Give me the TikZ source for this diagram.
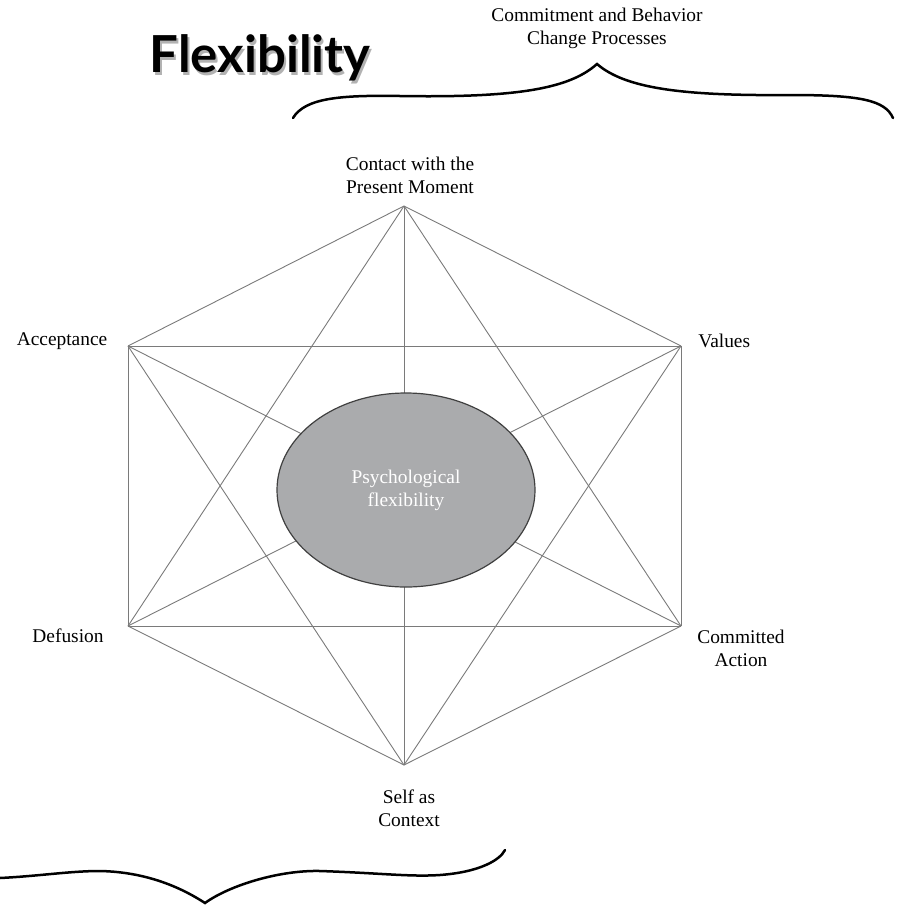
\documentclass[tikz,border=0pt]{standalone}
\usepackage{fontspec}
\setmainfont{Liberation Serif}
\newfontfamily\titlefont{Lato}
\usetikzlibrary{calc,positioning,shapes.geometric}
\definecolor{FlexGrey}{HTML}{aaabad}
\definecolor{EdgeGrey}{HTML}{7a7a7a}

\begin{document}
\begin{tikzpicture}[%
    x=0.5pt, y=-0.5pt,%
    label text/.style={align=center, inner sep=0pt, font=\fontsize{9.7}{11.5}\selectfont},%
    edge/.style={draw=EdgeGrey, line width=0.45pt},%
    brace/.style={line width=1.25pt, line cap=round}%
  ]
  \useasboundingbox (0,0) rectangle (897,906);%

  %
  % Sommets de l'hexagone
  %
  \foreach \n/\x/\y in {cpm/404/206,val/681/346,ca/681/626,sac/404/765,def/128/626,acc/128/346} {%
      \coordinate (\n) at (\x,\y);%
    }%

  % Toutes les liaisons
  \foreach \a/\b in {cpm/val,cpm/ca,cpm/sac,cpm/def,cpm/acc,val/ca,val/sac,val/def,val/acc,%
      ca/sac,ca/def,ca/acc,sac/def,sac/acc,def/acc} {%
      \draw[edge] (\a) -- (\b);%
    }%

  % Centre
  \node[ellipse, draw=black!75, line width=0.6pt, fill=FlexGrey, text=white, inner sep=0pt,%
    minimum width=129pt, minimum height=97pt, align=center,%
    font=\fontsize{9.7}{11.5}\selectfont] (flex) at (406,490) {Psychological\\flexibility};%

  %
  % Etiquettes
  %
  \node[label text] (cpm label) at (410,175) {Contact with the\\Present Moment};%
  \node[label text] (acc label) at (62,341) {Acceptance};%
  \node[label text, anchor=west] (val label) at (698,341) {Values};%
  \node[label text] (def label) at (68,636) {Defusion};%
  \node[label text] (ca label) at (741,648) {Committed\\Action};%
  \node[label text] (sac label) at (409,808) {Self as\\Context};%
  \node[label text] (cbc label) at (597,28) {Commitment and Behavior\\Change Processes};%

  % Titre
  \node[text=black!30, font=\titlefont\bfseries\fontsize{25.5}{30}\selectfont] at (262,61) {Flexibility};%
  \node[font=\titlefont\bfseries\fontsize{25.5}{30}\selectfont] (title) at (260,58) {Flexibility};%

  %
  % Accolades
  %
  \draw[brace] (293,118) .. controls (305,98) and (340,95) .. (400,96)%
    .. controls (520,98) and (570,88) .. (597,64)%
    .. controls (625,88) and (680,96) .. (790,95)%
    .. controls (860,95) and (885,100) .. (893,118);%
  \draw[brace] (0,878) .. controls (40,876) and (70,871) .. (100,871)%
    .. controls (150,872) and (185,890) .. (205,903)%
    .. controls (230,885) and (280,870) .. (320,871)%
    .. controls (380,873) and (410,877) .. (440,875)%
    .. controls (480,872) and (500,860) .. (505,850);%
\end{tikzpicture}
\end{document}
